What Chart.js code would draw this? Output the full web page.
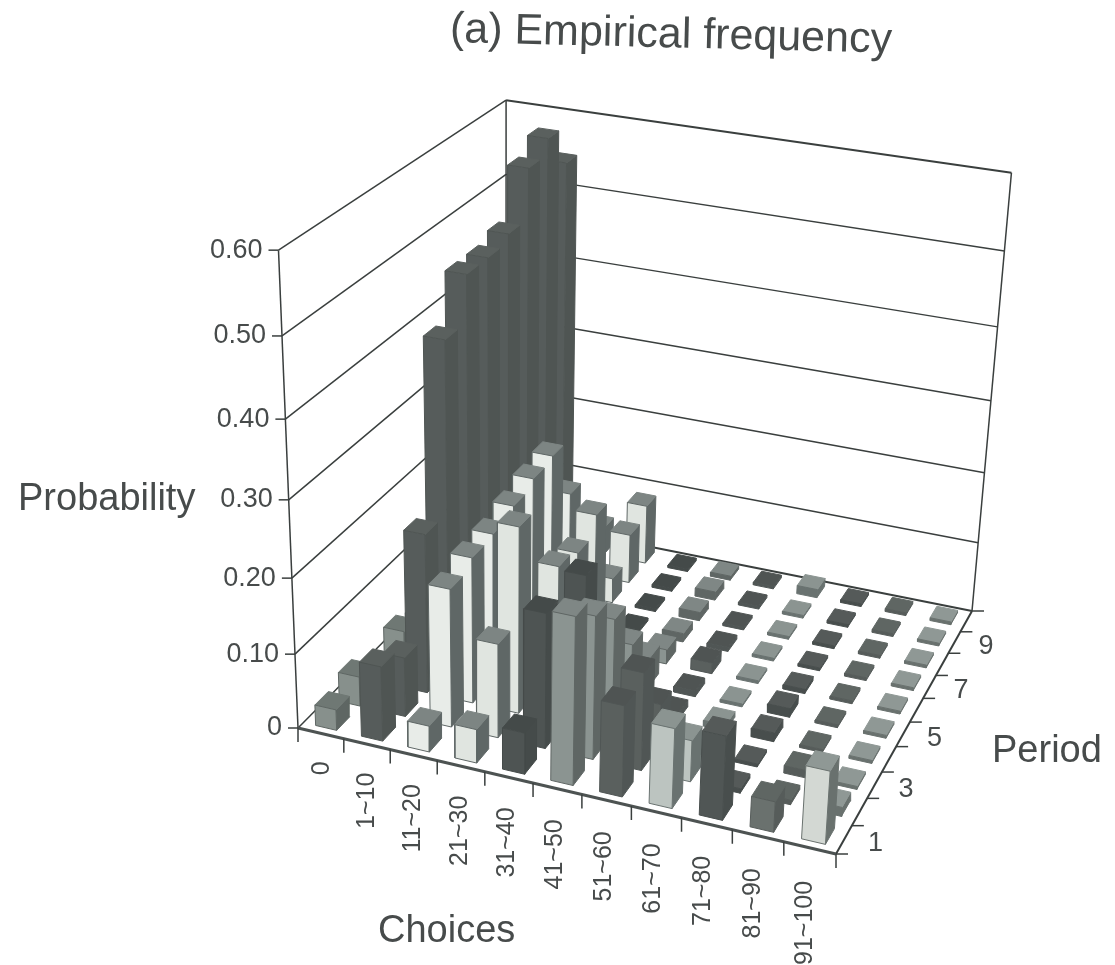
<!DOCTYPE html>
<html>
<head>
<meta charset="utf-8">
<style>
  html, body { margin: 0; padding: 0; background: #ffffff; }
  canvas { display: block; filter: blur(0.5px); }
</style>
<script src="https://cdn.jsdelivr.net/npm/chart.js@4"></script>
</head>
<body>
<canvas id="grafico" width="1115" height="965"></canvas>
<script>
const choices = ['0', '1~10', '11~20', '21~30', '31~40', '41~50', '51~60', '61~70', '71~80', '81~90', '91~100'];
const periodTicks = [1, 3, 5, 7, 9];
const valueTicks = ['0', '0.10', '0.20', '0.30', '0.40', '0.50', '0.60'];

// probability for periods 1..10, one array per choice bin
const choice0 = [0.028, 0.04, 0.02, 0.04, 0.03, 0.02, 0.01, 0.01, 0.01, 0.01];
const choice1 = [0.1, 0.08, 0.215, 0.44, 0.5, 0.5, 0.51, 0.575, 0.595, 0.545];
const choice2 = [0.035, 0.185, 0.197, 0.2, 0.21, 0.22, 0.225, 0.145, 0.08, 0.04];
const choice3 = [0.045, 0.126, 0.25, 0.1, 0.14, 0.13, 0.155, 0.035, 0.07, 0.085];
const choice4 = [0.055, 0.18, 0.1, 0.17, 0.07, 0.01, 0.004, 0.004, 0.004, 0.004];
const choice5 = [0.22, 0.19, 0.155, 0.09, 0.04, 0.02, 0.012, 0.012, 0.012, 0.006];
const choice6 = [0.12, 0.13, 0.055, 0.01, 0.008, 0.015, 0.006, 0.004, 0.004, 0.004];
const choice7 = [0.105, 0.055, 0.008, 0.008, 0.004, 0.004, 0.004, 0.004, 0.004, 0.012];
const choice8 = [0.11, 0.006, 0.004, 0.012, 0.012, 0.006, 0.004, 0.004, 0.004, 0.004];
const choice9 = [0.04, 0.006, 0.01, 0.004, 0.004, 0.004, 0.004, 0.004, 0.004, 0.004];
const choice10 = [0.095, 0.012, 0.004, 0.004, 0.004, 0.004, 0.004, 0.004, 0.004, 0.004];
const series = [choice0, choice1, choice2, choice3, choice4, choice5, choice6, choice7, choice8, choice9, choice10];

// front, side, top shade of each choice bin
const frontColors = ['#87908c', '#565c5b', '#e8ece8', '#e0e5e0', '#4e5453', '#8b9491', '#5a605e', '#bcc4c0', '#505655', '#6a716e', '#d3d8d3'];
const sideColors = ['#5e6663', '#4f5553', '#5f6766', '#5f6766', '#454b4a', '#5f6664', '#505655', '#697270', '#484e4d', '#565c5a', '#69716e'];
const topColors = ['#6f7874', '#5a605e', '#7d8583', '#7d8583', '#444a49', '#7f8785', '#4f5453', '#8b9491', '#555a59', '#5f6663', '#8f9895'];

// floor corners and vertical vanishing point of the box, in picture units
const floorFL = [298, 728], floorFR = [836, 854], floorBR = [972, 611], floorBL = [506, 518];
const vanish = [505, 5800];
const depthPerValue = -0.1435;

const nChoices = choices.length;
const nPeriods = series[0].length;
const barHalfChoice = 0.23;
const barHalfPeriod = 0.28;

const den = (floorFR[0] - floorBR[0]) * (floorBL[1] - floorBR[1]) - (floorBL[0] - floorBR[0]) * (floorFR[1] - floorBR[1]);
const sumX = floorFL[0] - floorFR[0] + floorBR[0] - floorBL[0];
const sumY = floorFL[1] - floorFR[1] + floorBR[1] - floorBL[1];
const hg = (sumX * (floorBL[1] - floorBR[1]) - (floorBL[0] - floorBR[0]) * sumY) / den;
const hh = ((floorFR[0] - floorBR[0]) * sumY - sumX * (floorFR[1] - floorBR[1])) / den;

// choice position, period position, probability -> picture x, y
function project(c, p, value) {
  const u = c / nChoices, v = p / nPeriods;
  const w = hg * u + hh * v + 1;
  const hx = (floorFR[0] * (1 + hg) - floorFL[0]) * u + (floorBL[0] * (1 + hh) - floorFL[0]) * v + floorFL[0];
  const hy = (floorFR[1] * (1 + hg) - floorFL[1]) * u + (floorBL[1] * (1 + hh) - floorFL[1]) * v + floorFL[1];
  const t = depthPerValue * value;
  return { x: (hx + t * vanish[0]) / (w + t), y: (hy + t * vanish[1]) / (w + t) };
}

function lineSet(points, color, width) {
  return { data: points, borderColor: color, borderWidth: width, pointRadius: 0, tension: 0, fill: false };
}

function faceSet(points, fillColor, edgeColor) {
  return {
    data: points.concat([points[0]]),
    backgroundColor: fillColor,
    borderColor: edgeColor,
    borderWidth: 1,
    pointRadius: 0,
    tension: 0,
    fill: 'shape'
  };
}

// drawn back to front
const layers = [];
const lineColor = '#3a3f3e';

valueTicks.forEach((_, i) => {
  const z = i / 10;
  if (i > 0) {
    layers.push(lineSet([project(0, 0, z), project(0, nPeriods, z)], lineColor, 1.5));
    layers.push(lineSet([project(0, nPeriods, z), project(nChoices, nPeriods, z)], lineColor, i === 6 ? 2 : 1.5));
  }
  const a = project(0, 0, z);
  layers.push(lineSet([{ x: a.x - 10, y: a.y }, a], lineColor, 1.5));
});
layers.push(lineSet([project(0, 0, 0), project(0, 0, 0.6)], lineColor, 1.5));
layers.push(lineSet([project(0, nPeriods, 0), project(0, nPeriods, 0.6)], lineColor, 1.5));
layers.push(lineSet([project(nChoices, nPeriods, 0), project(nChoices, nPeriods, 0.6)], lineColor, 1.5));
layers.push(lineSet([project(0, 0, 0), project(0, nPeriods, 0)], lineColor, 1.5));
layers.push(lineSet([project(0, nPeriods, 0), project(nChoices, nPeriods, 0)], lineColor, 2));
layers.push(lineSet([project(nChoices, 0, 0), project(nChoices, nPeriods, 0)], lineColor, 2));
layers.push(lineSet([project(0, 0, 0), project(nChoices, 0, 0)], '#4d5352', 3));

for (let c = 0; c <= nChoices; c++) {
  const a = project(c, 0, 0);
  layers.push(lineSet([a, { x: a.x, y: a.y + 14 }], lineColor, 1.5));
}
for (let p = 0; p <= nPeriods; p++) {
  const a = project(nChoices, p, 0);
  layers.push(lineSet([a, { x: a.x + 12, y: a.y }], lineColor, 1.5));
}

for (let p = nPeriods - 1; p >= 0; p--) {
  for (let c = 0; c < nChoices; c++) {
    const z = series[c][p];
    const c0 = c + 0.5 - barHalfChoice, c1 = c + 0.5 + barHalfChoice;
    const p0 = p + 0.5 - barHalfPeriod, p1 = p + 0.5 + barHalfPeriod;
    const front = z < 0.015 ? sideColors[c] : frontColors[c];
    layers.push(faceSet([project(c1, p0, 0), project(c1, p1, 0), project(c1, p1, z), project(c1, p0, z)], sideColors[c], sideColors[c]));
    layers.push(faceSet([project(c0, p0, z), project(c1, p0, z), project(c1, p1, z), project(c0, p1, z)], topColors[c], topColors[c]));
    layers.push(faceSet([project(c0, p0, 0), project(c1, p0, 0), project(c1, p0, z), project(c0, p0, z)], front, sideColors[c]));
  }
}

const textColor = '#474b4b';

const labelsPlugin = {
  id: 'labels3d',
  afterDraw(chart) {
    const ctx = chart.ctx;
    const sx = chart.scales.x, sy = chart.scales.y;
    ctx.save();
    ctx.fillStyle = textColor;
    ctx.textBaseline = 'middle';

    ctx.font = '27px "Liberation Sans"';
    ctx.textAlign = 'right';
    valueTicks.forEach((label, i) => {
      const a = project(0, 0, i / 10);
      ctx.fillText(label, sx.getPixelForValue(a.x - 16), sy.getPixelForValue(a.y));
    });

    ctx.textAlign = 'left';
    periodTicks.forEach((period) => {
      const a = project(nChoices, period - 0.5, 0);
      ctx.fillText(String(period), sx.getPixelForValue(a.x + 24), sy.getPixelForValue(a.y + 4));
    });

    ctx.font = '25px "Liberation Sans"';
    choices.forEach((label, i) => {
      const a = project(i + 0.5, 0, 0);
      ctx.save();
      ctx.translate(sx.getPixelForValue(a.x + 1 - 0.6 * i), sy.getPixelForValue(a.y + 28 + 0.5 * i));
      ctx.rotate(-Math.PI / 2);
      ctx.textAlign = 'right';
      ctx.fillText(label, 0, 0);
      ctx.restore();
    });

    ctx.textAlign = 'left';
    ctx.font = '38px "Liberation Sans"';
    ctx.fillText('Probability', 18, 500);
    ctx.fillText('Choices', 378, 932);
    ctx.fillText('Period', 992, 752);

    ctx.save();
    ctx.translate(450, 30);
    ctx.rotate(1.4 * Math.PI / 180);
    ctx.font = '43px "Liberation Sans"';
    ctx.fillText('(a) Empirical frequency', 0, 0);
    ctx.restore();
    ctx.restore();
  }
};

new Chart(document.getElementById('grafico'), {
  type: 'line',
  data: { datasets: layers.reverse() },
  options: {
    responsive: false,
    animation: false,
    layout: { padding: 0 },
    plugins: { legend: { display: false }, title: { display: false }, tooltip: { enabled: false } },
    scales: {
      x: { type: 'linear', min: 0, max: 1115, display: false },
      y: { type: 'linear', min: 0, max: 965, reverse: true, display: false }
    }
  },
  plugins: [labelsPlugin]
});
</script>
</body>
</html>
